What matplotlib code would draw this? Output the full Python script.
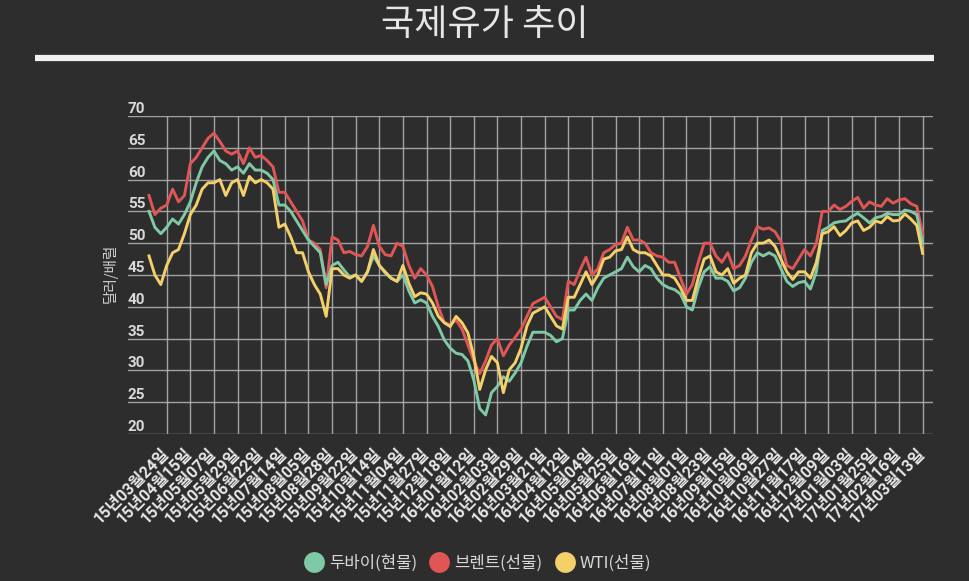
import matplotlib
matplotlib.use("Agg")
import matplotlib.pyplot as plt
from matplotlib.lines import Line2D
import numpy as np

plt.rcParams['font.family'] = ['Noto Sans CJK KR', 'DejaVu Sans']

# ---- data -------------------------------------------------------------
dates = ['15년03월24일', '15년04월15일', '15년05월07일', '15년05월29일', '15년06월22일',
         '15년07월14일', '15년08월05일', '15년08월28일', '15년09월22일', '15년10월14일',
         '15년11월04일', '15년11월27일', '15년12월18일', '16년01월12일', '16년02월03일',
         '16년02월29일', '16년03월21일', '16년04월12일', '16년05월04일', '16년05월25일',
         '16년06월16일', '16년07월11일', '16년08월01일', '16년08월23일', '16년09월15일',
         '16년10월06일', '16년10월27일', '16년11월17일', '16년12월09일', '17년01월03일',
         '17년01월25일', '17년02월16일', '17년03월13일']

dubai = [55.0, 52.5, 51.5,
         52.5, 53.8, 53.0, 54.5, 56.5, 59.5, 62.0, 63.5, 64.5, 63.0, 62.5, 61.5,
         62.0, 61.0, 62.5, 61.5, 61.5, 61.0, 60.0, 56.0, 56.0, 55.0, 53.5, 52.0,
         50.5, 49.5, 48.5, 43.5, 46.5, 47.0, 45.8, 44.7, 45.0, 44.0, 45.5, 48.0,
         46.5, 45.3, 44.5, 44.0, 45.0, 42.5, 40.6, 41.1, 40.6, 38.5, 36.9, 34.8,
         33.5, 32.7, 32.5, 31.5, 28.5, 24.0, 23.0, 26.5, 27.5, 29.0, 28.3, 29.6,
         31.2, 33.8, 36.0, 36.0, 36.0, 35.5, 34.5, 35.0, 39.5, 39.5, 41.0, 42.0,
         41.0, 43.0, 44.5, 45.0, 45.5, 46.0, 47.8, 46.3, 45.5, 46.5, 46.0, 44.5,
         43.5, 43.0, 42.7, 42.0, 40.0, 39.5, 43.0, 45.5, 46.3, 44.5, 44.5, 44.0,
         42.5, 43.0, 44.5, 47.0, 48.5, 48.0, 48.5, 48.0, 46.0, 44.0, 43.2, 43.8,
         44.0, 42.8, 45.5, 52.0, 52.5, 53.2, 53.4, 53.5, 54.2, 54.7, 54.0, 53.2,
         54.0, 54.2, 54.7, 54.5, 54.5, 55.2, 55.0, 54.5,
         50.0]

brent = [57.5, 54.5, 55.5,
         56.0, 58.5, 56.5, 57.5, 62.5, 63.5, 65.0, 66.5, 67.3, 66.0, 64.5, 64.0,
         64.5, 62.5, 65.0, 63.5, 63.8, 63.0, 62.0, 58.0, 58.0, 56.5, 55.0, 53.5,
         50.5, 50.0, 49.0, 43.0, 51.0, 50.5, 48.5, 48.7, 48.2, 48.0, 49.5, 52.8,
         49.5, 48.2, 48.0, 50.0, 49.5, 46.5, 44.5, 46.0, 45.0, 43.2, 40.0, 37.5,
         37.2, 37.9, 36.5, 34.0, 31.5, 29.5, 31.5, 34.0, 35.0, 32.3, 34.0, 35.2,
         36.5, 38.5, 40.5, 41.0, 41.5, 40.0, 38.5, 38.0, 44.0, 43.5, 45.8, 47.8,
         45.0, 46.0, 48.5, 49.0, 49.8, 50.0, 52.5, 50.5, 50.5, 50.0, 48.5, 48.0,
         47.8, 47.0, 47.0, 44.5, 42.0, 43.5, 47.0, 50.0, 50.0, 48.0, 47.0, 48.5,
         46.0, 46.5, 48.0, 50.5, 52.6, 52.2, 52.4, 51.8, 50.3, 46.5, 46.0, 47.5,
         49.0, 48.0, 50.0, 55.0, 55.0, 56.0, 55.3, 55.8, 56.6, 57.2, 55.5, 56.5,
         56.0, 55.8, 57.0, 56.3, 56.8, 57.0, 56.2, 55.8,
         51.5]

wti = [48.0, 45.0, 43.5,
       46.5, 48.5, 49.0, 51.5, 54.5, 56.0, 58.5, 59.5, 59.5, 60.0, 57.5, 59.5,
       60.0, 57.5, 60.5, 59.5, 60.0, 59.5, 58.5, 52.5, 53.0, 51.0, 48.5, 48.5,
       45.5, 43.5, 42.0, 38.5, 46.0, 46.0, 45.0, 44.5, 45.0, 44.0, 45.5, 49.0,
       46.5, 45.5, 44.5, 44.0, 46.5, 43.7, 41.6, 42.2, 42.0, 40.6, 38.5, 37.5,
       36.9, 38.5, 37.5, 35.9, 32.2, 27.0, 30.1, 32.2, 31.2, 26.5, 30.1, 31.2,
       33.5, 37.0, 39.0, 39.5, 40.0, 38.5, 37.0, 36.5, 41.5, 41.5, 43.5, 45.5,
       43.5, 45.0, 47.5, 47.8, 48.8, 49.0, 51.0, 49.0, 48.5, 48.5, 48.0, 46.5,
       45.0, 45.0, 44.5, 43.0, 41.0, 41.0, 44.5, 47.5, 48.0, 45.5, 45.0, 46.0,
       43.7, 44.5, 45.0, 48.5, 50.0, 50.0, 50.5, 49.5, 47.5, 45.5, 44.3, 45.5,
       45.5, 44.5, 47.0, 51.5, 51.8, 52.6, 51.2, 52.0, 53.2, 53.5, 52.0, 52.5,
       53.5, 53.2, 54.2, 53.5, 53.6, 54.6, 53.8, 52.8,
       48.4]

series_names = ['두바이(현물)', '브렌트(선물)', 'WTI(선물)']
y_ticks = [20, 25, 30, 35, 40, 45, 50, 55, 60, 65, 70]

# ---- style ------------------------------------------------------------
BG = '#2d2d2d'
GRID = '#b0b0b0'
TEXT = '#d9d9d9'
C_DUBAI = '#7fc9a6'
C_BRENT = '#e05656'
C_WTI = '#f4d06a'

fig = plt.figure(figsize=(9.7, 5.81), dpi=100, facecolor=BG)
W, H = 970.0, 581.0
ax = fig.add_axes([128 / W, 1 - 434 / H, (933 - 128) / W, (434 - 116) / H])
ax.set_facecolor(BG)

n = len(dubai)
x = np.arange(n)
tick_pos = np.arange(3, n, 4)

ax.plot(x, brent, color=C_BRENT, lw=2.1, zorder=3, solid_joinstyle='round')
ax.plot(x, dubai, color=C_DUBAI, lw=2.1, zorder=4, solid_joinstyle='round')
ax.plot(x, wti, color=C_WTI, lw=2.1, zorder=5, solid_joinstyle='round')

ax.set_xlim(3 + (128 - 166.7) / 5.906, 3 + (933 - 166.7) / 5.906)
ax.set_ylim(y_ticks[0], y_ticks[-1])

ax.set_xticks(tick_pos)
ax.set_xticklabels(dates, rotation=45, ha='right', va='center',
                   rotation_mode='anchor', fontsize=11.5, fontweight='bold',
                   color='#e8e8e8', family=['Roboto', 'Noto Sans CJK KR'])
ax.set_yticks(y_ticks)
ax.set_yticklabels([])
ax.tick_params(axis='both', length=0)
ax.tick_params(axis='x', pad=12)

ax.grid(True, color=GRID, lw=1.0, alpha=0.9, zorder=0)
ax.set_axisbelow(True)
for s in ax.spines.values():
    s.set_visible(False)

ytr = ax.get_yaxis_transform()
for v in y_ticks:
    ax.text(0.0, v, str(v), transform=ytr, ha='left', va='bottom',
            fontsize=11, fontweight='bold', color=TEXT,
            family=['Roboto', 'DejaVu Sans'])

fig.text(110 / W, 1 - 273 / H, '달러/배럴', rotation=90, ha='center', va='center',
         fontsize=10.5, color='#cfcfcf')

# title and bar
fig.text(485 / W, 1 - 25 / H, '국제유가 추이', ha='center', va='center',
         fontsize=26, color='#e6e6e6')
fig.add_artist(Line2D([35 / W, 934 / W], [1 - 58 / H, 1 - 58 / H],
                      transform=fig.transFigure, color='#f0f0f0', lw=4.5,
                      solid_capstyle='butt'))

handles = [Line2D([], [], ls='none', marker='o', markersize=15, color=c,
                  markeredgewidth=0) for c in (C_DUBAI, C_BRENT, C_WTI)]
fig.legend(handles, series_names, loc='center', bbox_to_anchor=(478 / W, 1 - 563 / H),
           ncol=3, frameon=False, fontsize=12, labelcolor=TEXT,
           handlelength=1.1, handletextpad=0.35, columnspacing=0.8,
           borderaxespad=0, borderpad=0)

fig.savefig('out.png', dpi=100, facecolor=BG)
